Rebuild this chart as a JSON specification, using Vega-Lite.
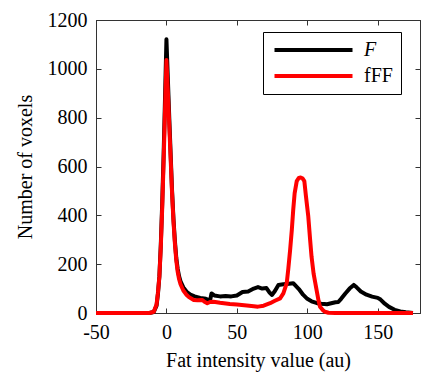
{
  "$schema": "https://vega.github.io/schema/vega-lite/v6.json",
  "width": 324,
  "height": 293,
  "autosize": {"type": "none"},
  "padding": {"left": 96, "top": 20, "right": 4, "bottom": 67},
  "background": "white",
  "config": {
    "font": "Times New Roman",
    "view": {"stroke": "#333", "strokeWidth": 1},
    "axis": {
      "labelFont": "Times New Roman", "labelFontSize": 20, "labelColor": "black", "labelFlush": false,
      "titleFont": "Times New Roman", "titleFontSize": 20, "titleFontWeight": "normal", "titleColor": "black",
      "grid": false, "domainColor": "#333", "tickColor": "#333", "tickSize": -5, "labelPadding": 14,
      "labelExpr": "toString(datum.value)"
    },
    "legend": {
      "orient": "none", "legendX": 167, "legendY": 12,
      "strokeColor": "black", "fillColor": "white", "padding": 8,
      "symbolType": "M-1,0H11", "symbolSize": 169, "symbolStrokeWidth": 4,
      "labelFont": "Times New Roman", "labelFontSize": 20, "labelColor": "black", "labelOffset": 73, "rowPadding": 6
    }
  },
  "data": {"values": [
    {"x": -50, "n": 0, "s": "F"}, {"x": -20, "n": 0, "s": "F"}, {"x": -12, "n": 0, "s": "F"}, {"x": -9, "n": 4, "s": "F"},
    {"x": -7, "n": 30, "s": "F"}, {"x": -6, "n": 80, "s": "F"}, {"x": -5, "n": 150, "s": "F"}, {"x": -4, "n": 280, "s": "F"},
    {"x": -3, "n": 450, "s": "F"}, {"x": -2, "n": 650, "s": "F"}, {"x": -1, "n": 880, "s": "F"}, {"x": 0, "n": 1121, "s": "F"},
    {"x": 1, "n": 960, "s": "F"}, {"x": 2, "n": 800, "s": "F"}, {"x": 3, "n": 650, "s": "F"}, {"x": 4, "n": 500, "s": "F"},
    {"x": 5, "n": 385, "s": "F"}, {"x": 6, "n": 295, "s": "F"}, {"x": 7, "n": 225, "s": "F"}, {"x": 8, "n": 180, "s": "F"},
    {"x": 9, "n": 150, "s": "F"}, {"x": 10, "n": 130, "s": "F"}, {"x": 12, "n": 105, "s": "F"}, {"x": 14.6, "n": 85, "s": "F"},
    {"x": 17, "n": 75, "s": "F"}, {"x": 20, "n": 68, "s": "F"}, {"x": 24, "n": 62, "s": "F"}, {"x": 28, "n": 58, "s": "F"},
    {"x": 31, "n": 52, "s": "F"}, {"x": 32, "n": 80, "s": "F"}, {"x": 34, "n": 72, "s": "F"}, {"x": 38, "n": 68, "s": "F"},
    {"x": 42, "n": 70, "s": "F"}, {"x": 46, "n": 68, "s": "F"}, {"x": 50, "n": 72, "s": "F"}, {"x": 54, "n": 86, "s": "F"},
    {"x": 58, "n": 88, "s": "F"}, {"x": 62, "n": 100, "s": "F"}, {"x": 65, "n": 106, "s": "F"}, {"x": 68, "n": 100, "s": "F"},
    {"x": 71, "n": 102, "s": "F"}, {"x": 73, "n": 85, "s": "F"}, {"x": 75, "n": 74, "s": "F"}, {"x": 77, "n": 90, "s": "F"},
    {"x": 79.5, "n": 115, "s": "F"}, {"x": 83, "n": 118, "s": "F"}, {"x": 87, "n": 120, "s": "F"}, {"x": 90, "n": 122, "s": "F"},
    {"x": 92, "n": 110, "s": "F"}, {"x": 94, "n": 98, "s": "F"}, {"x": 97, "n": 75, "s": "F"}, {"x": 100, "n": 58, "s": "F"},
    {"x": 103, "n": 48, "s": "F"}, {"x": 107, "n": 40, "s": "F"}, {"x": 110, "n": 38, "s": "F"}, {"x": 114, "n": 36, "s": "F"},
    {"x": 117, "n": 40, "s": "F"}, {"x": 120, "n": 44, "s": "F"}, {"x": 122, "n": 45, "s": "F"}, {"x": 124, "n": 58, "s": "F"},
    {"x": 127, "n": 80, "s": "F"}, {"x": 130, "n": 100, "s": "F"}, {"x": 133, "n": 115, "s": "F"}, {"x": 135, "n": 105, "s": "F"},
    {"x": 138, "n": 88, "s": "F"}, {"x": 142, "n": 75, "s": "F"}, {"x": 146, "n": 67, "s": "F"}, {"x": 150, "n": 62, "s": "F"},
    {"x": 152, "n": 55, "s": "F"}, {"x": 155, "n": 38, "s": "F"}, {"x": 158, "n": 25, "s": "F"}, {"x": 162, "n": 13, "s": "F"},
    {"x": 166, "n": 6, "s": "F"}, {"x": 170, "n": 3, "s": "F"}, {"x": 175, "n": 0, "s": "F"},
    {"x": -50, "n": 0, "s": "fFF"}, {"x": -20, "n": 0, "s": "fFF"}, {"x": -12, "n": 0, "s": "fFF"}, {"x": -9, "n": 5, "s": "fFF"},
    {"x": -7, "n": 35, "s": "fFF"}, {"x": -6, "n": 85, "s": "fFF"}, {"x": -5, "n": 150, "s": "fFF"}, {"x": -4, "n": 270, "s": "fFF"},
    {"x": -3, "n": 430, "s": "fFF"}, {"x": -2, "n": 620, "s": "fFF"}, {"x": -1, "n": 830, "s": "fFF"}, {"x": 0, "n": 1036, "s": "fFF"},
    {"x": 1, "n": 910, "s": "fFF"}, {"x": 2, "n": 770, "s": "fFF"}, {"x": 3, "n": 630, "s": "fFF"}, {"x": 4, "n": 490, "s": "fFF"},
    {"x": 5, "n": 375, "s": "fFF"}, {"x": 6, "n": 285, "s": "fFF"}, {"x": 7, "n": 215, "s": "fFF"}, {"x": 8, "n": 168, "s": "fFF"},
    {"x": 9, "n": 138, "s": "fFF"}, {"x": 10, "n": 118, "s": "fFF"}, {"x": 12, "n": 92, "s": "fFF"}, {"x": 14, "n": 76, "s": "fFF"},
    {"x": 16, "n": 65, "s": "fFF"}, {"x": 19.4, "n": 53, "s": "fFF"}, {"x": 22, "n": 52, "s": "fFF"}, {"x": 25.5, "n": 53, "s": "fFF"},
    {"x": 27, "n": 46, "s": "fFF"}, {"x": 29, "n": 40, "s": "fFF"}, {"x": 31, "n": 45, "s": "fFF"}, {"x": 33.5, "n": 46, "s": "fFF"},
    {"x": 38, "n": 42, "s": "fFF"}, {"x": 45, "n": 37, "s": "fFF"}, {"x": 50, "n": 35, "s": "fFF"}, {"x": 57, "n": 31, "s": "fFF"},
    {"x": 62, "n": 28, "s": "fFF"}, {"x": 65, "n": 26, "s": "fFF"}, {"x": 69, "n": 30, "s": "fFF"}, {"x": 73.6, "n": 40, "s": "fFF"},
    {"x": 77, "n": 50, "s": "fFF"}, {"x": 80.7, "n": 60, "s": "fFF"}, {"x": 83, "n": 80, "s": "fFF"}, {"x": 85.4, "n": 122, "s": "fFF"},
    {"x": 86.5, "n": 180, "s": "fFF"}, {"x": 87.8, "n": 258, "s": "fFF"}, {"x": 89, "n": 340, "s": "fFF"}, {"x": 90, "n": 422, "s": "fFF"},
    {"x": 91, "n": 490, "s": "fFF"}, {"x": 92.5, "n": 540, "s": "fFF"}, {"x": 94, "n": 553, "s": "fFF"}, {"x": 95.3, "n": 555, "s": "fFF"},
    {"x": 96.5, "n": 552, "s": "fFF"}, {"x": 97.9, "n": 540, "s": "fFF"}, {"x": 99, "n": 480, "s": "fFF"}, {"x": 100.7, "n": 395, "s": "fFF"},
    {"x": 102, "n": 300, "s": "fFF"}, {"x": 103, "n": 231, "s": "fFF"}, {"x": 104.5, "n": 160, "s": "fFF"}, {"x": 106.6, "n": 94, "s": "fFF"},
    {"x": 108, "n": 50, "s": "fFF"}, {"x": 109, "n": 26, "s": "fFF"}, {"x": 111, "n": 12, "s": "fFF"}, {"x": 112.5, "n": 5, "s": "fFF"},
    {"x": 115, "n": 1, "s": "fFF"}, {"x": 120, "n": 0, "s": "fFF"}, {"x": 175, "n": 0, "s": "fFF"}
  ]},
  "resolve": {"axis": {"x": "independent", "y": "independent"}},
  "layer": [
    {
      "transform": [{"filter": "datum.s === 'F'"}],
      "mark": {"type": "line", "strokeWidth": 4, "strokeJoin": "round"},
      "encoding": {
        "x": {"field": "x", "type": "quantitative", "scale": {"domain": [-50, 180], "nice": false},
              "axis": {"title": "Fat intensity value (au)", "values": [-50, 0, 50, 100, 150], "titlePadding": 8, "labelFlush": false}},
        "y": {"field": "n", "type": "quantitative", "scale": {"domain": [0, 1200], "nice": false},
              "axis": {"title": "Number of voxels", "values": [0, 200, 400, 600, 800, 1000, 1200], "titlePadding": 12, "labelFlush": false}},
        "color": {"field": "s", "type": "nominal", "scale": {"domain": ["F", "fFF"], "range": ["#000000", "#ff0000"]},
                  "legend": {"title": null,
                             "encode": {"labels": {"update": {"fontStyle": {"signal": "datum.value === 'F' ? 'italic' : 'normal'"}}}}}}
      }
    },
    {
      "transform": [{"filter": "datum.s === 'fFF'"}],
      "mark": {"type": "line", "strokeWidth": 4, "strokeJoin": "round"},
      "encoding": {
        "x": {"field": "x", "type": "quantitative",
              "axis": {"orient": "top", "title": null, "labels": false, "values": [-50, 0, 50, 100, 150]}},
        "y": {"field": "n", "type": "quantitative",
              "axis": {"orient": "right", "title": null, "labels": false, "values": [0, 200, 400, 600, 800, 1000, 1200]}},
        "color": {"field": "s", "type": "nominal"}
      }
    }
  ]
}
